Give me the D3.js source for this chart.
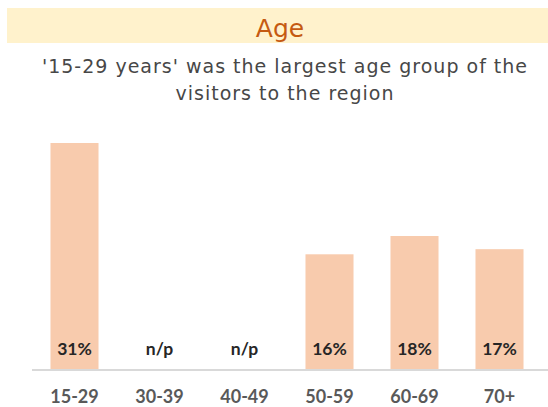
<!DOCTYPE html>
<html>
<head>
<meta charset="utf-8">
<script src="https://cdn.jsdelivr.net/npm/d3@7"></script>
<style>
  html, body { margin: 0; padding: 0; background: #ffffff; }
  svg { display: block; }
</style>
</head>
<body>
<div id="chart"></div>
<script>
const title = "Age";
const subtitleLines = ["'15-29 years' was the largest age group of the", "visitors to the region"];
const categories = ["15-29", "30-39", "40-49", "50-59", "60-69", "70+"];
const values = [31, null, null, 15.8, 18.3, 16.5];
const missingLabel = "n/p";

const W = 548, H = 407;
const svg = d3.select("#chart").append("svg").attr("width", W).attr("height", H);

// title band
svg.append("rect").attr("x", 7).attr("y", 8).attr("width", W - 7).attr("height", 35).attr("fill", "#FFF2CC");
svg.append("text").attr("x", 280).attr("y", 37).attr("text-anchor", "middle")
  .attr("font-family", "'DejaVu Sans', sans-serif").attr("font-size", 25).attr("fill", "#C55A11")
  .text(title);

const sub = svg.append("text").attr("text-anchor", "middle")
  .attr("font-family", "'DejaVu Sans', sans-serif").attr("font-size", 19)
  .attr("letter-spacing", 1).attr("fill", "#474747");
subtitleLines.forEach((l, i) => {
  sub.append("tspan").attr("x", 285).attr("y", 73 + i * 27).text(l);
});

const x = d3.scaleBand().domain(categories).range([32, 542]).paddingInner(0.435).paddingOuter(0.2175);
const y = d3.scaleLinear().domain([0, 31]).range([370, 143]);

const data = categories.map((c, i) => ({ c, v: values[i] }));

svg.selectAll("rect.bar").data(data.filter(d => d.v != null)).join("rect")
  .attr("class", "bar")
  .attr("x", d => x(d.c)).attr("width", x.bandwidth())
  .attr("y", d => y(d.v)).attr("height", d => y(0) - y(d.v))
  .attr("fill", "#F8CBAD");

// axis
const axis = svg.append("g").attr("transform", "translate(0,370)")
  .call(d3.axisBottom(x).tickSize(0).tickPadding(0));
axis.select(".domain").attr("stroke", "#D9D9D9").attr("stroke-width", 2)
  .attr("d", "M32,0H548");
axis.selectAll(".tick text")
  .attr("y", 33).attr("dy", 0)
  .attr("font-family", "Lato, 'Open Sans', sans-serif").attr("font-weight", "bold")
  .attr("font-size", 18).attr("fill", "#595959");

// value labels
svg.selectAll("text.val").data(data).join("text")
  .attr("class", "val")
  .attr("x", d => x(d.c) + x.bandwidth() / 2)
  .attr("y", 355)
  .attr("text-anchor", "middle")
  .attr("font-family", "Lato, 'Open Sans', sans-serif").attr("font-weight", "bold")
  .attr("font-size", 17.5).attr("fill", "#262626")
  .text(d => d.v == null ? missingLabel : Math.round(d.v) + "%");
</script>
</body>
</html>
